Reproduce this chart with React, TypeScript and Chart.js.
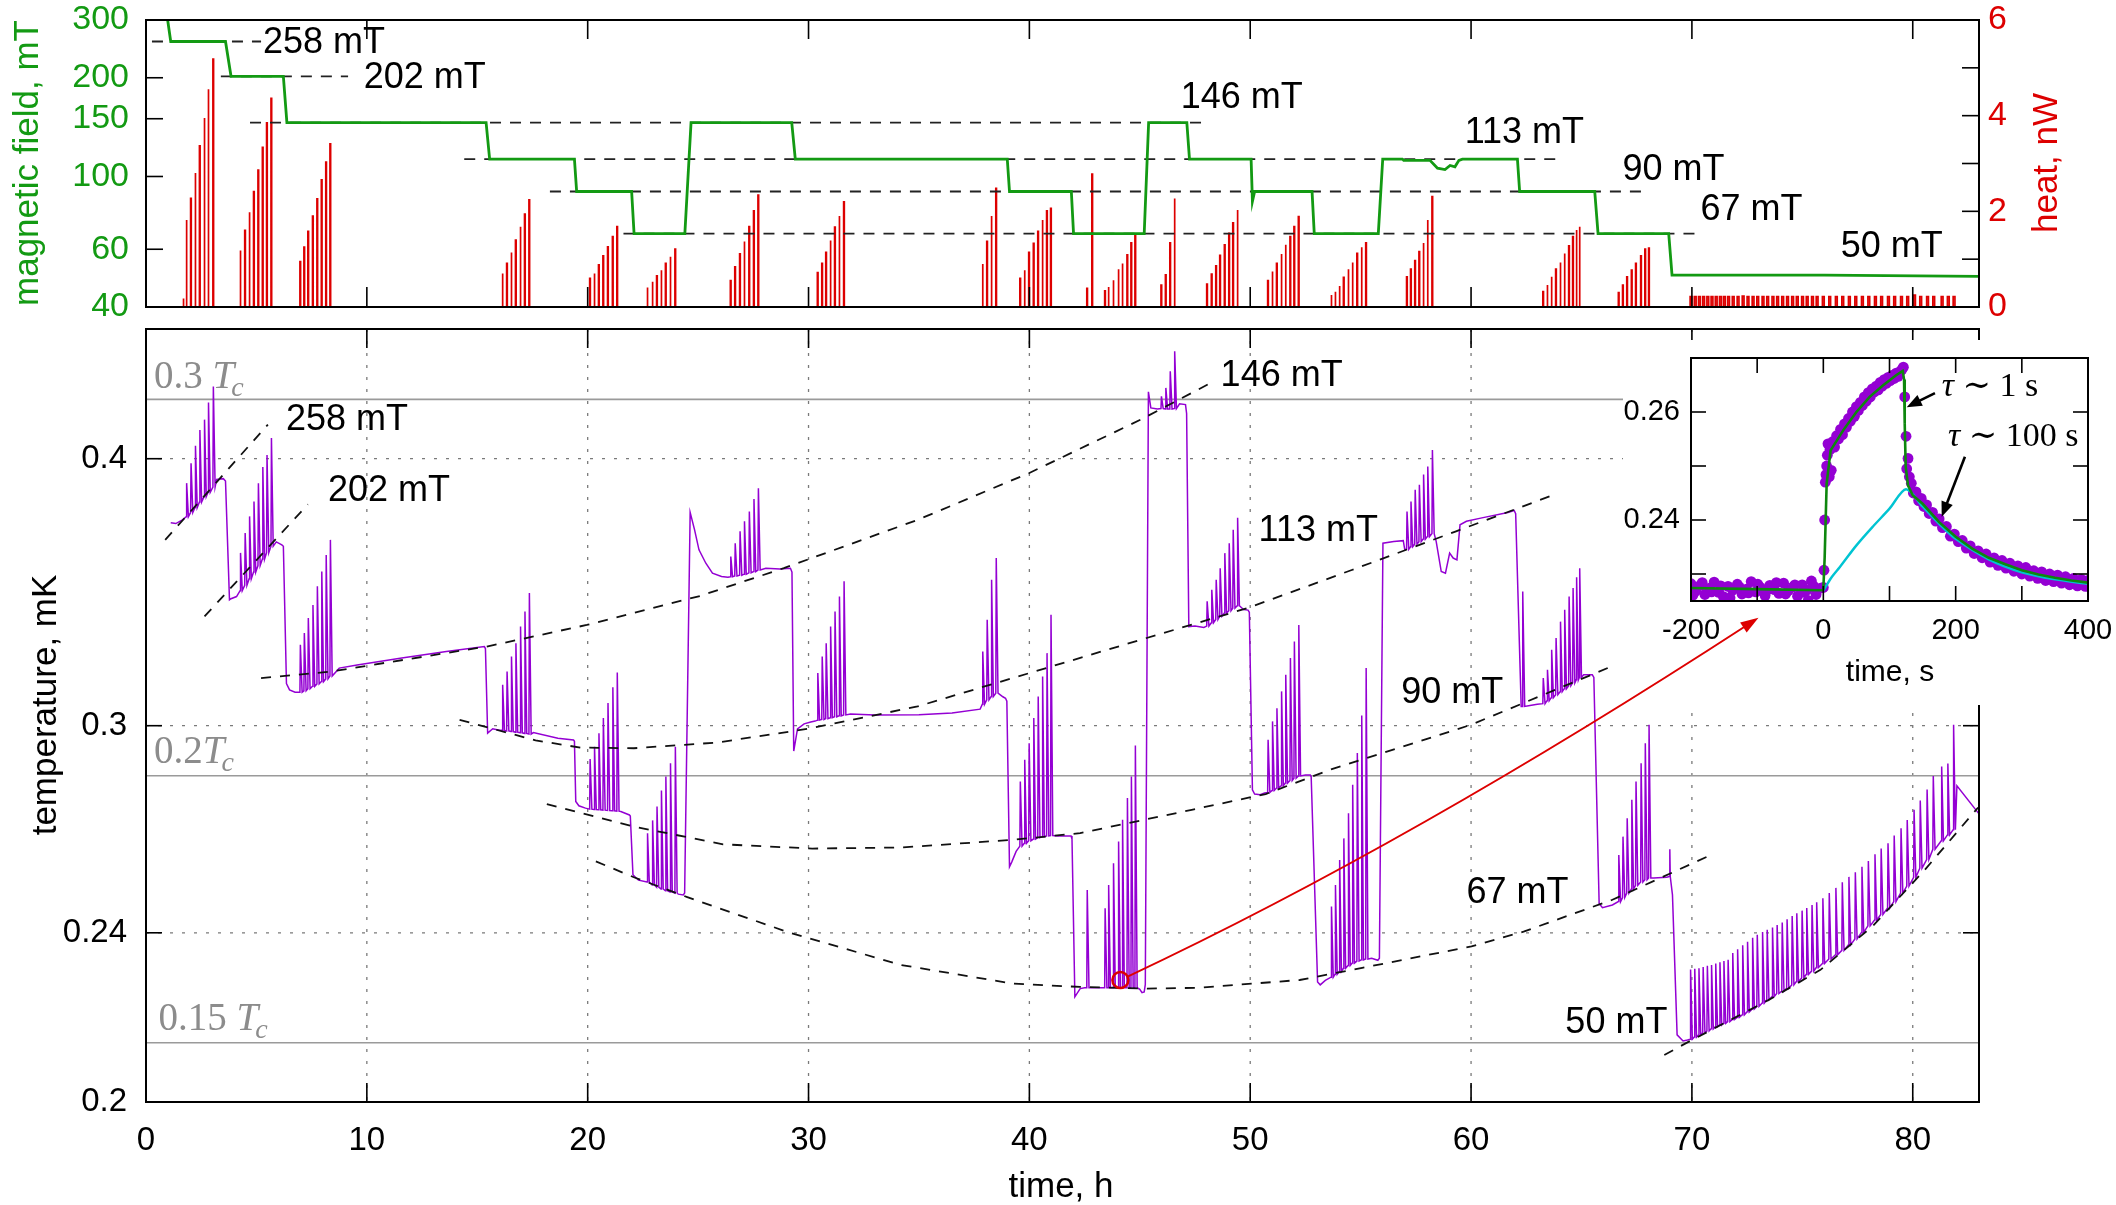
import React, { useEffect, useRef } from "react";
import { Chart, registerables } from "chart.js";

Chart.register(...registerables);

const W = 2116;
const H = 1205;
const TOP_H = 320;
const SANS = "'Liberation Sans', Arial, sans-serif";
const SERIF = "'Liberation Serif', 'DejaVu Serif', serif";

const PURPLE = "#9400d3";
const FIELD_GREEN = "#139a13";
const FIT_GREEN = "#0e870e";
const RED = "#dd0000";
const CYAN = "#00c4d2";
const GRAY_LINE = "#9a9a9a";
const GRAY_TEXT = "#8c8c8c";

// ---------- axis ticks ----------
const timeTicks = [0, 10, 20, 30, 40, 50, 60, 70, 80];
const fieldTicks = [40, 60, 100, 150, 200, 300];
const heatTicks = [0, 1, 2, 3, 4, 5, 6];
const tempTicks = [0.2, 0.24, 0.3, 0.4];
const insetTimeTicks = [-200, -100, 0, 100, 200, 300, 400];
const insetTempTicks = [0.23, 0.24, 0.25, 0.26];

// ---------- top panel: magnetic field (mT) ----------
const fieldTime = [0.95, 1.12, 3.6, 3.85, 6.22, 6.38, 15.4, 15.56, 19.4, 19.5, 21.99, 22.1, 24.4, 24.68, 29.24, 29.4, 39.0, 39.1, 41.9, 42.0, 45.2, 45.4, 47.13, 47.25, 50.04, 50.1, 50.2, 52.8, 52.9, 55.8, 56.0, 56.89, 56.95, 58.14, 58.48, 58.82, 59.05, 59.27, 59.45, 59.61, 62.1, 62.2, 65.6, 65.75, 68.95, 69.1, 76.0, 83.0];
const fieldValue = [310, 258, 258, 202, 202, 146, 146, 113, 113, 90, 90, 67, 67, 146, 146, 113, 113, 90, 90, 67, 67, 146, 146, 113, 113, 84, 90, 90, 67, 67, 113, 113, 112, 112, 106, 105, 108, 107, 112, 113, 113, 90, 90, 67, 67, 50, 50, 49.6];

const fieldLevels = [258, 202, 146, 113, 90, 67];
const fieldLevelStart = [0.27, 3.39, 4.71, 14.41, 18.29, 21.62];
const fieldLevelEnd = [5.21, 9.15, 47.88, 64.15, 67.9, 70.5];

const topLabelText = ["258 mT", "202 mT", "146 mT", "113 mT", "90 mT", "67 mT", "50 mT"];
const topLabelTime = [5.3, 9.86, 46.85, 59.71, 66.86, 70.39, 76.74];
const topLabelField = [255, 199.7, 173.5, 135.7, 104.7, 79.0, 61.0];

// extra heater pulses without a matching temperature spike [time h, nW]
const heatExtra = [[1.68, 0.18], [42.83, 2.78]];

// ---------- main panel: temperature trace (mK) ----------
// baseline / transition points [time h, T mK]
const traceKnots = [
  [1.12, 0.3733], [1.35, 0.373], [1.65, 0.3745],
  [3.2, 0.3912], [3.5, 0.3915], [3.6, 0.3905], [3.78, 0.3436], [3.85, 0.344], [4.1, 0.3448],
  [5.9, 0.3657], [6.15, 0.3645], [6.22, 0.364], [6.36, 0.3139], [6.5, 0.3118], [6.75, 0.311],
  [8.75, 0.3192], [9.56, 0.3203], [11.58, 0.3227], [13.6, 0.325], [15.32, 0.3267], [15.37, 0.326], [15.47, 0.2976], [15.7, 0.299], [16.0, 0.2985],
  [17.54, 0.2978], [18.65, 0.296], [19.36, 0.2954], [19.4, 0.295], [19.46, 0.2765], [19.6, 0.2752], [19.9, 0.2745],
  [21.5, 0.2735], [21.89, 0.2725], [21.93, 0.2722], [22.05, 0.2555], [22.3, 0.254],
  [24.1, 0.2502], [24.33, 0.25], [24.39, 0.2505], [24.64, 0.3775], [24.84, 0.3705], [25.04, 0.3626], [25.35, 0.3574], [25.65, 0.3536], [26.06, 0.3523], [26.35, 0.352],
  [28.07, 0.3555], [28.7, 0.3552], [29.18, 0.3555], [29.25, 0.354], [29.33, 0.2919], [29.5, 0.299], [29.8, 0.3006], [30.1, 0.3012], [30.3, 0.3015],
  [31.9, 0.3038], [33.0, 0.3035], [35.0, 0.3036], [36.5, 0.3041], [37.77, 0.3054],
  [38.8, 0.3095], [38.92, 0.309], [38.98, 0.308], [39.1, 0.2577], [39.2, 0.259], [39.4, 0.262],
  [41.29, 0.2664], [41.89, 0.2664], [41.93, 0.2655], [42.06, 0.224], [42.3, 0.226], [42.5, 0.2262],
  [45.0, 0.2258], [45.1, 0.225], [45.2, 0.2252], [45.25, 0.227], [45.39, 0.4299], [45.5, 0.4225], [45.8, 0.422],
  [46.8, 0.4244], [47.07, 0.424], [47.12, 0.42], [47.22, 0.3338], [47.5, 0.334], [47.9, 0.3335],
  [49.7, 0.34], [49.9, 0.3398], [49.96, 0.339], [50.1, 0.28], [50.2, 0.2787], [50.45, 0.2785], [50.65, 0.279],
  [52.5, 0.2845], [52.72, 0.2845], [52.76, 0.284], [53.05, 0.2276], [53.17, 0.2269], [53.4, 0.228],
  [55.5, 0.2335], [55.78, 0.233], [55.85, 0.2335], [56.01, 0.3652], [56.5, 0.3659], [56.93, 0.3662], [57.0, 0.3626],
  [58.42, 0.3659], [58.65, 0.3542], [58.84, 0.3536], [59.03, 0.3613], [59.19, 0.3594], [59.36, 0.3587], [59.5, 0.3725], [59.79, 0.3739], [60.49, 0.3753], [61.67, 0.3775], [61.95, 0.3783], [62.02, 0.377], [62.27, 0.3063], [62.31, 0.3063],
  [62.6, 0.3065], [63.0, 0.307],
  [65.1, 0.3169], [65.49, 0.3169], [65.56, 0.316], [65.8, 0.2477], [65.95, 0.2466], [66.4, 0.2473],
  [68.27, 0.2546], [68.86, 0.2548], [68.98, 0.255], [69.0, 0.2626], [69.02, 0.255], [69.12, 0.25], [69.33, 0.215], [69.6, 0.2136], [69.8, 0.2138],
  [82.0, 0.2812], [83.0, 0.2728],
];

// heat-pulse bursts: [time h, baseline T, peak T, heater nW]
const burst258 = [[1.82, 0.3758, 0.3896, 1.82], [2.02, 0.3775, 0.398, 2.27], [2.22, 0.3795, 0.4056, 2.8], [2.42, 0.3818, 0.4126, 3.37], [2.63, 0.384, 0.4172, 3.95], [2.81, 0.3858, 0.425, 4.55], [3.03, 0.388, 0.4324, 5.18]];
const burst202 = [[4.26, 0.347, 0.3614, 1.18], [4.47, 0.349, 0.3692, 1.6], [4.67, 0.3515, 0.3759, 1.98], [4.87, 0.354, 0.382, 2.41], [5.07, 0.3565, 0.3896, 2.86], [5.27, 0.359, 0.3964, 3.34], [5.46, 0.3615, 0.4016, 3.85], [5.66, 0.364, 0.409, 4.36]];
const burst146a = [[6.97, 0.311, 0.3273, 0.95], [7.15, 0.3115, 0.3315, 1.25], [7.33, 0.3122, 0.3369, 1.58], [7.54, 0.313, 0.3417, 1.9], [7.74, 0.3138, 0.3486, 2.26], [7.94, 0.3146, 0.3542, 2.66], [8.14, 0.3155, 0.3606, 3.03], [8.33, 0.3165, 0.3665, 3.41]];
const burst113a = [[16.13, 0.2985, 0.3135, 0.7], [16.33, 0.2983, 0.318, 0.91], [16.53, 0.2981, 0.3232, 1.14], [16.73, 0.2979, 0.3279, 1.4], [16.94, 0.2977, 0.3338, 1.68], [17.14, 0.2975, 0.3393, 1.94], [17.34, 0.2973, 0.3461, 2.24]];
const burst90a = [[20.09, 0.2742, 0.2894, 0.6], [20.29, 0.2741, 0.2933, 0.7], [20.49, 0.274, 0.2976, 0.88], [20.69, 0.2739, 0.3025, 1.07], [20.9, 0.2738, 0.3074, 1.26], [21.12, 0.2737, 0.3127, 1.47], [21.32, 0.2736, 0.3177, 1.68]];
const burst67a = [[22.69, 0.2535, 0.2672, 0.41], [22.92, 0.2527, 0.2709, 0.53], [23.12, 0.2521, 0.275, 0.65], [23.32, 0.2516, 0.2798, 0.77], [23.52, 0.2511, 0.284, 0.91], [23.73, 0.2508, 0.2881, 1.05], [23.95, 0.2505, 0.2933, 1.21]];
const burst146b = [[26.46, 0.3522, 0.36, 0.55], [26.66, 0.3525, 0.3652, 0.84], [26.88, 0.3528, 0.3699, 1.11], [27.08, 0.3532, 0.3739, 1.37], [27.3, 0.3537, 0.3779, 1.68], [27.51, 0.3542, 0.383, 2.01], [27.71, 0.3548, 0.3875, 2.34]];
const burst113b = [[30.4, 0.3018, 0.3175, 0.72], [30.6, 0.302, 0.3232, 0.91], [30.78, 0.3023, 0.3279, 1.14], [30.98, 0.3026, 0.3338, 1.39], [31.18, 0.3029, 0.3393, 1.67], [31.38, 0.3032, 0.3448, 1.9], [31.59, 0.3035, 0.3505, 2.2]];
const burst113bEnd = [[37.87, 0.307, 0.325, 0.9], [38.07, 0.3085, 0.3363, 1.37], [38.27, 0.3096, 0.3511, 1.9], [38.48, 0.3107, 0.3594, 2.48]];
const burst90b = [[39.57, 0.2635, 0.2825, 0.6], [39.77, 0.2643, 0.2892, 0.77], [39.97, 0.265, 0.2944, 1.14], [40.18, 0.2655, 0.3025, 1.33], [40.38, 0.2659, 0.3096, 1.58], [40.58, 0.2662, 0.3163, 1.82], [40.78, 0.2664, 0.3244, 2.01], [40.96, 0.2665, 0.3381, 2.06]];
const burst67b = [[42.6, 0.2262, 0.2513, 0.39], [43.41, 0.2262, 0.2464, 0.34], [43.57, 0.2262, 0.2527, 0.42], [43.79, 0.2262, 0.2587, 0.56], [44.02, 0.2262, 0.2648, 0.79], [44.2, 0.2262, 0.2711, 0.91], [44.42, 0.2262, 0.2775, 1.09], [44.6, 0.2262, 0.284, 1.34], [44.78, 0.2262, 0.2937, 1.51]];
const burst146c = [[45.96, 0.4222, 0.4278, 0.46], [46.16, 0.422, 0.4317, 0.67], [46.36, 0.422, 0.4395, 1.34], [46.56, 0.4222, 0.4491, 2.27]];
const burst113c = [[48.03, 0.334, 0.343, 0.48], [48.24, 0.3352, 0.3473, 0.69], [48.44, 0.3364, 0.3511, 0.86], [48.62, 0.3376, 0.3555, 1.08], [48.83, 0.3387, 0.3613, 1.3], [49.03, 0.3396, 0.3652, 1.54], [49.21, 0.3405, 0.3705, 1.76], [49.41, 0.3414, 0.3753, 2.03]];
const burst90c = [[50.79, 0.2792, 0.2955, 0.55], [50.99, 0.2798, 0.3014, 0.74], [51.19, 0.2805, 0.3057, 0.91], [51.4, 0.2812, 0.3113, 1.11], [51.59, 0.282, 0.3169, 1.3], [51.8, 0.2828, 0.3227, 1.47], [51.98, 0.2835, 0.3285, 1.68], [52.18, 0.2842, 0.3344, 1.89]];
const burst67c = [[53.66, 0.2288, 0.2469, 0.25], [53.84, 0.2295, 0.2527, 0.32], [54.03, 0.2302, 0.2596, 0.44], [54.22, 0.231, 0.2657, 0.62], [54.43, 0.2317, 0.273, 0.79], [54.62, 0.2323, 0.2815, 0.93], [54.83, 0.2328, 0.2913, 1.12], [55.03, 0.2331, 0.3033, 1.25], [55.23, 0.2333, 0.3192, 1.34]];
const burst113d = [[57.08, 0.3628, 0.3779, 0.63], [57.26, 0.3638, 0.382, 0.79], [57.45, 0.3648, 0.3868, 0.97], [57.64, 0.3658, 0.3889, 1.16], [57.83, 0.3668, 0.3932, 1.34], [58.02, 0.3678, 0.3967, 1.82], [58.23, 0.369, 0.4038, 2.31]];
const burst90d = [[62.33, 0.3063, 0.3467, 0], [63.25, 0.3072, 0.3158, 0.32], [63.44, 0.3082, 0.3186, 0.46], [63.63, 0.3092, 0.3256, 0.63], [63.83, 0.3102, 0.3297, 0.79], [64.03, 0.3112, 0.3356, 0.93], [64.22, 0.3122, 0.3399, 1.12], [64.42, 0.3132, 0.3448, 1.28], [64.6, 0.3142, 0.348, 1.47], [64.76, 0.3152, 0.352, 1.61], [64.9, 0.316, 0.3555, 1.68]];
const burst67d = [[66.67, 0.2482, 0.261, 0.3], [66.86, 0.2493, 0.2662, 0.46], [67.05, 0.2505, 0.2715, 0.63], [67.26, 0.2516, 0.277, 0.77], [67.45, 0.2526, 0.2825, 0.91], [67.68, 0.2535, 0.2881, 1.07], [67.87, 0.2541, 0.2944, 1.21], [68.04, 0.2546, 0.3003, 1.23]];
const burst50 = [
  [69.92, 0.214, 0.2307, 0.22], [70.11, 0.2145, 0.2309, 0.22], [70.3, 0.215, 0.231, 0.22], [70.49, 0.2155, 0.2313, 0.22], [70.68, 0.2159, 0.2316, 0.22],
  [70.87, 0.2164, 0.2318, 0.22], [71.06, 0.2169, 0.2322, 0.22], [71.25, 0.2173, 0.2325, 0.22], [71.43, 0.2177, 0.2328, 0.22], [71.62, 0.2181, 0.2331, 0.22],
  [71.83, 0.2186, 0.2348, 0.22], [72.05, 0.2191, 0.2358, 0.22], [72.28, 0.2197, 0.2368, 0.23], [72.5, 0.2204, 0.2377, 0.22], [72.73, 0.2211, 0.2387, 0.22],
  [72.94, 0.2217, 0.2395, 0.22], [73.18, 0.2225, 0.2402, 0.22], [73.39, 0.2233, 0.2408, 0.22], [73.63, 0.2241, 0.2414, 0.22], [73.84, 0.2248, 0.242, 0.22],
  [74.07, 0.2254, 0.2427, 0.22], [74.29, 0.2261, 0.2435, 0.22], [74.52, 0.2269, 0.2444, 0.22], [74.73, 0.2277, 0.2451, 0.22], [74.97, 0.2286, 0.2458, 0.22],
  [75.18, 0.2295, 0.2465, 0.22], [75.42, 0.2303, 0.2473, 0.22], [75.63, 0.2312, 0.248, 0.22], [75.91, 0.2322, 0.2491, 0.22], [76.2, 0.2333, 0.2505, 0.22],
  [76.5, 0.2344, 0.2519, 0.22], [76.79, 0.2355, 0.2534, 0.22], [77.09, 0.2369, 0.2549, 0.22], [77.38, 0.2384, 0.2562, 0.22], [77.68, 0.2401, 0.2577, 0.22],
  [77.97, 0.2418, 0.2593, 0.22], [78.27, 0.2433, 0.2612, 0.22], [78.55, 0.2448, 0.2628, 0.22], [78.86, 0.2465, 0.2643, 0.22], [79.14, 0.2482, 0.2665, 0.22],
  [79.45, 0.2505, 0.2686, 0.22], [79.73, 0.2524, 0.271, 0.22], [80.04, 0.2548, 0.274, 0.25], [80.32, 0.2573, 0.2768, 0.22], [80.63, 0.2597, 0.2801, 0.22],
  [80.91, 0.2626, 0.2842, 0.22], [81.29, 0.265, 0.2871, 0.22], [81.57, 0.2667, 0.288, 0.22], [81.83, 0.2682, 0.3003, 0.22],
];
const bursts = [burst258, burst202, burst146a, burst113a, burst90a, burst67a, burst146b, burst113b, burst113bEnd, burst90b, burst67b, burst146c, burst113c, burst90c, burst67c, burst113d, burst90d, burst67d, burst50];

// dashed guide curves [time h, T mK]
const guide258 = [[0.87, 0.3665], [5.52, 0.415]];
const guide202 = [[2.65, 0.3375], [7.33, 0.3808]];
const guide146 = [[5.21, 0.3158], [8.35, 0.318], [15.42, 0.3267], [19.96, 0.3344], [25.08, 0.345], [28.88, 0.3555], [34.94, 0.3745], [40.0, 0.3939], [45.04, 0.4172], [48.08, 0.4333]];
const guide113 = [[14.2, 0.3019], [17.64, 0.2953], [19.67, 0.293], [22.09, 0.2928], [25.85, 0.2946], [29.99, 0.299], [34.94, 0.3063], [40.0, 0.3175], [45.04, 0.3291], [49.9, 0.3406], [54.6, 0.3548], [59.32, 0.3699], [63.56, 0.3841]];
const guide90 = [[18.15, 0.2757], [22.09, 0.2691], [26.13, 0.264], [30.17, 0.2628], [34.21, 0.2631], [39.27, 0.2653], [42.3, 0.2672], [47.35, 0.274], [50.7, 0.2787], [53.66, 0.2862], [60.0, 0.3003], [66.4, 0.3199]];
const guide67 = [[20.37, 0.2592], [22.09, 0.2548], [24.51, 0.2494], [29.16, 0.24], [34.21, 0.2318], [39.27, 0.2272], [42.3, 0.2264], [45.33, 0.226], [47.7, 0.2262], [52.24, 0.2281], [55.07, 0.2311], [60.02, 0.2365], [62.38, 0.2403], [66.4, 0.2487], [70.87, 0.261]];
const guide50 = [[68.75, 0.2104], [69.92, 0.2136], [73.46, 0.2232], [75.82, 0.2306], [78.18, 0.2417], [80.54, 0.2568], [82.96, 0.2747]];
const guides = [guide258, guide202, guide146, guide113, guide90, guide67, guide50];

const mainLabelText = ["258 mT", "202 mT", "146 mT", "113 mT", "90 mT", "67 mT", "50 mT"];
const mainLabelTime = [6.34, 8.24, 48.66, 50.38, 56.84, 59.79, 64.27];
const mainLabelTemp = [0.4172, 0.3861, 0.4374, 0.3698, 0.3107, 0.2505, 0.2177];

const Tc = 1.4213;
const tcFractions = [0.3, 0.2, 0.15];
const tcPrefix = ["0.3 ", "0.2", "0.15 "];
const tcLabelTime = [0.36, 0.36, 0.57];
const tcLabelTemp = [0.4318, 0.2882, 0.2161];

const markerTime = 44.12;
const markerTemp = 0.2281;
const markerTarget = [-98, 0.2219]; // in inset coordinates (s, mK)

// ---------- inset ----------
const insetFitTime = [-200, -100, -1, 0, 2, 5, 11, 30, 50, 70, 90, 110, 120, 122, 123, 124.5, 128, 135, 150, 175, 200, 225, 250, 275, 300, 325, 350, 375, 400];
const insetFitValue = [0.2274, 0.2272, 0.227, 0.2272, 0.233, 0.2467, 0.2529, 0.2566, 0.26, 0.2628, 0.2649, 0.2668, 0.2676, 0.266, 0.2578, 0.2498, 0.2464, 0.2446, 0.243, 0.2396, 0.2369, 0.2347, 0.233, 0.2318, 0.2307, 0.2299, 0.2293, 0.2288, 0.2284];
const insetCyanTime = [0, 12, 25, 50, 75, 100, 125, 150, 175, 200, 250, 300, 350, 400];
const insetCyanValue = [0.2269, 0.2293, 0.2313, 0.2353, 0.2388, 0.2421, 0.2457, 0.2425, 0.2393, 0.2365, 0.2327, 0.2303, 0.229, 0.2282];
const insetDots = [
  [-200, 0.2282], [-197, 0.2261], [-193, 0.2268], [-186, 0.2279], [-183, 0.2284], [-179, 0.2262], [-172, 0.2274], [-169, 0.2267], [-165, 0.2285], [-158, 0.2266],
  [-155, 0.2278], [-151, 0.2258], [-146, 0.2251], [-144, 0.2277], [-141, 0.2256], [-137, 0.227], [-130, 0.2281], [-127, 0.2276], [-123, 0.2263], [-116, 0.2272],
  [-113, 0.2265], [-109, 0.2286], [-102, 0.2267], [-99, 0.2281], [-95, 0.2275], [-88, 0.226], [-85, 0.227], [-81, 0.2279], [-74, 0.2271], [-71, 0.2284],
  [-67, 0.2264], [-60, 0.2283], [-57, 0.2263], [-53, 0.2269], [-46, 0.2276], [-43, 0.228], [-39, 0.2259], [-32, 0.228], [-29, 0.2266], [-25, 0.227],
  [-23, 0.2251], [-18, 0.2287], [-15, 0.2278], [-11, 0.2262], [-4, 0.2274],
  [0, 0.2275], [1, 0.2307], [2, 0.24], [3, 0.247], [4, 0.2484], [5, 0.25], [6, 0.252], [7, 0.2541], [9, 0.248], [10, 0.253], [12, 0.2492], [14, 0.2545],
  [17, 0.2535], [20, 0.2556], [23, 0.255], [26, 0.2568], [29, 0.2558], [32, 0.2578], [35, 0.2572], [38, 0.2588], [41, 0.2583], [44, 0.26], [47, 0.2592],
  [50, 0.261], [53, 0.2603], [56, 0.2618], [59, 0.2612], [62, 0.2628], [65, 0.262], [68, 0.2636], [71, 0.2628], [74, 0.2643], [77, 0.2637], [80, 0.2648],
  [83, 0.2641], [86, 0.2655], [89, 0.2648], [92, 0.266], [95, 0.2653], [98, 0.2664], [101, 0.2658], [104, 0.2668], [107, 0.2662], [110, 0.2672], [113, 0.2666],
  [116, 0.2675], [119, 0.2679], [121, 0.2683],
  [123, 0.2628], [125, 0.2555], [126, 0.2495], [128, 0.2514], [130, 0.248], [133, 0.2468], [136, 0.245], [140, 0.2452], [144, 0.2436], [148, 0.244],
  [152, 0.2425], [156, 0.2428], [160, 0.2412], [165, 0.2414], [170, 0.2398], [175, 0.2402], [180, 0.2386], [186, 0.2388], [192, 0.237], [198, 0.2374],
  [204, 0.236], [210, 0.2362], [216, 0.2348], [222, 0.2352], [228, 0.2338], [234, 0.2343], [240, 0.233], [246, 0.2337], [252, 0.2322], [258, 0.233],
  [264, 0.2316], [270, 0.2325], [276, 0.2311], [282, 0.232], [288, 0.2305], [294, 0.2315], [300, 0.23], [306, 0.2312], [312, 0.2296], [318, 0.2306],
  [324, 0.2292], [330, 0.2304], [336, 0.2288], [342, 0.23], [348, 0.2286], [354, 0.2298], [360, 0.2283], [366, 0.2295], [372, 0.228], [378, 0.2292],
  [384, 0.2278], [390, 0.229], [396, 0.2277], [400, 0.2288],
];
const insetArrowFrom = [[168.7, 0.2635], [214, 0.2517]];
const insetArrowTo = [[126, 0.2609], [178.9, 0.2406]];
const insetTextTime = [179, 188.4];
const insetTextValue = [0.2646, 0.2554];
const insetTextRest = [" \u223C 1 s", " \u223C 100 s"];

// ---------- builders ----------
function buildTrace() {
  const pts: { x: number; y: number }[] = traceKnots.map(([x, y]) => ({ x, y }));
  bursts.forEach((b) =>
    b.forEach(([t, base, peak]) => {
      pts.push({ x: t, y: base }, { x: t + 0.02, y: peak }, { x: t + 0.1, y: base });
    })
  );
  pts.sort((a, b) => a.x - b.x);
  return pts;
}

function buildHeat() {
  const pulses: number[][] = [];
  bursts.forEach((b) =>
    b.forEach(([t, , , h]) => {
      if (h > 0) pulses.push([t, h, b === burst50 ? 0.08 : 0.03]);
    })
  );
  heatExtra.forEach(([t, h]) => pulses.push([t, h, 0.03]));
  pulses.sort((a, b) => a[0] - b[0]);
  const pts = [{ x: 1.5, y: 0 }];
  pulses.forEach(([t, h, w]) => {
    pts.push({ x: t, y: 0 }, { x: t, y: h }, { x: t + w, y: h }, { x: t + w, y: 0 });
  });
  pts.push({ x: 83, y: 0 });
  return pts;
}

function seg(ctx: CanvasRenderingContext2D, x0: number, y0: number, x1: number, y1: number) {
  ctx.beginPath();
  ctx.moveTo(x0, y0);
  ctx.lineTo(x1, y1);
  ctx.stroke();
}

function vText(ctx: CanvasRenderingContext2D, text: string, x: number, y: number, font: string, color: string) {
  ctx.save();
  ctx.translate(x, y);
  ctx.rotate(-Math.PI / 2);
  ctx.font = font;
  ctx.fillStyle = color;
  ctx.textAlign = "center";
  ctx.textBaseline = "middle";
  ctx.fillText(text, 0, 0);
  ctx.restore();
}

function head(ctx: CanvasRenderingContext2D, fx: number, fy: number, x: number, y: number, len: number, half: number) {
  const a = Math.atan2(y - fy, x - fx);
  const c = Math.cos(a), s = Math.sin(a);
  ctx.beginPath();
  ctx.moveTo(x, y);
  ctx.lineTo(x - len * c + half * s, y - len * s - half * c);
  ctx.lineTo(x - len * c - half * s, y - len * s + half * c);
  ctx.closePath();
  ctx.fill();
}

function fixWidth(w: number) {
  return (s: any) => {
    s.width = w;
    s.paddingTop = 0;
    s.paddingBottom = 0;
    s.paddingLeft = 0;
    s.paddingRight = 0;
  };
}
function fixHeight(h: number) {
  return (s: any) => {
    s.height = h;
    s.paddingTop = 0;
    s.paddingBottom = 0;
    s.paddingLeft = 0;
    s.paddingRight = 0;
  };
}

function axisBase(extra: any) {
  return {
    grid: { display: false, drawTicks: false },
    border: { display: false },
    ...extra,
  };
}

export default function App() {
  const topRef = useRef<HTMLCanvasElement>(null);
  const mainRef = useRef<HTMLCanvasElement>(null);
  const insetRef = useRef<HTMLCanvasElement>(null);

  useEffect(() => {
    document.body.style.margin = "0";
    const charts: Chart[] = [];

    // ---------------- top panel ----------------
    const topDecor = {
      id: "topDecor",
      afterDatasetsDraw(chart: any) {
        const { ctx, chartArea: a, scales } = chart;
        const sx = scales.x, sb = scales.yB, sh = scales.yH;
        ctx.save();
        ctx.strokeStyle = "#000";
        ctx.lineWidth = 1.6;
        timeTicks.forEach((t) => {
          const px = sx.getPixelForValue(t);
          seg(ctx, px, a.bottom, px, a.bottom - 20);
          seg(ctx, px, a.top, px, a.top + 19);
        });
        fieldTicks.forEach((v) => {
          const py = sb.getPixelForValue(v);
          seg(ctx, a.left, py, a.left + 17, py);
        });
        heatTicks.forEach((v) => {
          const py = sh.getPixelForValue(v);
          seg(ctx, a.right, py, a.right - 17, py);
        });
        ctx.lineWidth = 2;
        ctx.strokeRect(a.left, a.top, a.right - a.left, a.bottom - a.top);
        ctx.fillStyle = "#000";
        ctx.font = `36px ${SANS}`;
        ctx.textAlign = "left";
        ctx.textBaseline = "middle";
        topLabelText.forEach((s, i) => ctx.fillText(s, sx.getPixelForValue(topLabelTime[i]), sb.getPixelForValue(topLabelField[i])));
        vText(ctx, "magnetic field, mT", 28, 163, `35px ${SANS}`, FIELD_GREEN);
        vText(ctx, "heat, nW", 2047, 163, `35px ${SANS}`, RED);
        ctx.restore();
      },
    };

    const fieldData = fieldTime.map((t, i) => ({ x: t, y: fieldValue[i] }));
    const levelSets = fieldLevels.map((lv, i) => ({
      data: [{ x: fieldLevelStart[i], y: lv }, { x: fieldLevelEnd[i], y: lv }],
      yAxisID: "yB",
      borderColor: "#222",
      borderWidth: 1.8,
      borderDash: [11, 9],
      pointRadius: 0,
    }));

    charts.push(
      new Chart(topRef.current!, {
        type: "line",
        data: {
          datasets: [
            { data: fieldData, yAxisID: "yB", borderColor: FIELD_GREEN, borderWidth: 2.8, pointRadius: 0 },
            ...levelSets,
            { data: buildHeat(), yAxisID: "yH", borderColor: RED, borderWidth: 1.7, pointRadius: 0 },
          ],
        },
        options: {
          responsive: false,
          animation: false,
          devicePixelRatio: 1,
          events: [],
          layout: { padding: { top: 20, bottom: 13, left: 0, right: 0 } },
          plugins: { legend: { display: false }, tooltip: { enabled: false } },
          scales: {
            x: { type: "linear", min: 0, max: 83, display: false },
            yB: axisBase({
              type: "logarithmic",
              position: "left",
              min: 40,
              max: 300,
              afterFit: fixWidth(146),
              afterBuildTicks: (s: any) => { s.ticks = fieldTicks.map((v) => ({ value: v })); },
              ticks: { color: FIELD_GREEN, font: { family: SANS, size: 34 }, padding: 17, autoSkip: false, callback: (v: any) => String(v) },
            }),
            yH: axisBase({
              type: "linear",
              position: "right",
              min: 0,
              max: 6,
              afterFit: fixWidth(137),
              afterBuildTicks: (s: any) => { s.ticks = heatTicks.map((v) => ({ value: v })); },
              ticks: { color: RED, font: { family: SANS, size: 34 }, padding: 9, autoSkip: false, callback: (v: any) => (v % 2 === 0 ? String(v) : "") },
            }),
          },
        },
        plugins: [topDecor],
      } as any)
    );

    // ---------------- main panel ----------------
    const mainDecor = {
      id: "mainDecor",
      beforeDatasetsDraw(chart: any) {
        const { ctx, chartArea: a, scales } = chart;
        ctx.save();
        ctx.strokeStyle = "#7a7a7a";
        ctx.lineWidth = 1.3;
        ctx.setLineDash([3, 9]);
        timeTicks.forEach((t) => {
          if (t === 0) return;
          const px = scales.x.getPixelForValue(t);
          seg(ctx, px, a.top, px, a.bottom);
        });
        tempTicks.forEach((v) => {
          if (v === 0.2) return;
          const py = scales.y.getPixelForValue(v);
          seg(ctx, a.left, py, a.right, py);
        });
        ctx.restore();
      },
      afterDatasetsDraw(chart: any) {
        const { ctx, chartArea: a, scales } = chart;
        const sx = scales.x, sy = scales.y;
        ctx.save();
        ctx.strokeStyle = "#000";
        ctx.lineWidth = 1.6;
        timeTicks.forEach((t) => {
          const px = sx.getPixelForValue(t);
          seg(ctx, px, a.bottom, px, a.bottom - 19);
          seg(ctx, px, a.top, px, a.top + 19);
        });
        tempTicks.forEach((v) => {
          const py = sy.getPixelForValue(v);
          seg(ctx, a.left, py, a.left + 16, py);
          seg(ctx, a.right, py, a.right - 16, py);
        });
        ctx.lineWidth = 2;
        ctx.strokeRect(a.left, a.top, a.right - a.left, a.bottom - a.top);

        ctx.fillStyle = "#000";
        ctx.font = `36px ${SANS}`;
        ctx.textAlign = "left";
        ctx.textBaseline = "middle";
        mainLabelText.forEach((s, i) => ctx.fillText(s, sx.getPixelForValue(mainLabelTime[i]), sy.getPixelForValue(mainLabelTemp[i])));

        ctx.fillStyle = GRAY_TEXT;
        ctx.textBaseline = "alphabetic";
        tcPrefix.forEach((p, i) => {
          const x0 = sx.getPixelForValue(tcLabelTime[i]);
          const y0 = sy.getPixelForValue(tcLabelTemp[i]);
          ctx.font = `39px ${SERIF}`;
          ctx.fillText(p, x0, y0);
          const w1 = ctx.measureText(p).width;
          ctx.font = `italic 39px ${SERIF}`;
          ctx.fillText("T", x0 + w1, y0);
          const w2 = ctx.measureText("T").width;
          ctx.font = `italic 28px ${SERIF}`;
          ctx.fillText("c", x0 + w1 + w2 - 3, y0 + 8);
        });

        ctx.strokeStyle = RED;
        ctx.lineWidth = 2.5;
        ctx.beginPath();
        ctx.arc(sx.getPixelForValue(markerTime), sy.getPixelForValue(markerTemp), 8, 0, Math.PI * 2);
        ctx.stroke();

        vText(ctx, "temperature, mK", 46, 705, `35px ${SANS}`, "#000");
        ctx.fillStyle = "#000";
        ctx.font = `35px ${SANS}`;
        ctx.textAlign = "center";
        ctx.textBaseline = "alphabetic";
        ctx.fillText("time, h", 1061, 1197);
        ctx.restore();
      },
    };

    const guideSets = guides.map((g) => ({
      data: g.map(([x, y]) => ({ x, y })),
      borderColor: "#111",
      borderWidth: 1.8,
      borderDash: [10, 9],
      pointRadius: 0,
    }));
    const tcSets = tcFractions.map((f) => ({
      data: [{ x: 0, y: f * Tc }, { x: 83, y: f * Tc }],
      borderColor: GRAY_LINE,
      borderWidth: 1.6,
      pointRadius: 0,
    }));

    const mainChart = new Chart(mainRef.current!, {
      type: "line",
      data: {
        datasets: [
          ...guideSets,
          { data: buildTrace(), borderColor: PURPLE, borderWidth: 1.5, pointRadius: 0 },
          ...tcSets,
        ],
      },
      options: {
        responsive: false,
        animation: false,
        devicePixelRatio: 1,
        events: [],
        layout: { padding: { top: 329, bottom: 0, left: 0, right: 137 } },
        plugins: { legend: { display: false }, tooltip: { enabled: false } },
        scales: {
          x: axisBase({
            type: "linear",
            min: 0,
            max: 83,
            afterFit: fixHeight(103),
            afterBuildTicks: (s: any) => { s.ticks = timeTicks.map((v) => ({ value: v })); },
            ticks: { color: "#000", font: { family: SANS, size: 33 }, padding: 19, autoSkip: false, maxRotation: 0, callback: (v: any) => String(v) },
          }),
          y: axisBase({
            type: "logarithmic",
            min: 0.2,
            max: 0.46,
            afterFit: fixWidth(146),
            afterBuildTicks: (s: any) => { s.ticks = tempTicks.map((v) => ({ value: v })); },
            ticks: { color: "#000", font: { family: SANS, size: 33 }, padding: 19, autoSkip: false, callback: (v: any) => String(v) },
          }),
        },
      },
      plugins: [mainDecor],
    } as any);
    charts.push(mainChart);

    // ---------------- inset ----------------
    const insetDecor = {
      id: "insetDecor",
      beforeDraw(chart: any) {
        const ctx = chart.ctx;
        ctx.save();
        ctx.fillStyle = "#fff";
        ctx.fillRect(1623, 340, W - 1623, 365);
        ctx.restore();
      },
      afterDatasetsDraw(chart: any) {
        const { ctx, chartArea: a, scales } = chart;
        const sx = scales.x, sy = scales.y;
        ctx.save();
        ctx.strokeStyle = "#000";
        ctx.lineWidth = 1.6;
        insetTimeTicks.forEach((t) => {
          const px = sx.getPixelForValue(t);
          seg(ctx, px, a.bottom, px, a.bottom - 15);
          seg(ctx, px, a.top, px, a.top + 15);
        });
        insetTempTicks.forEach((v) => {
          const py = sy.getPixelForValue(v);
          seg(ctx, a.left, py, a.left + 15, py);
          seg(ctx, a.right, py, a.right - 15, py);
        });
        ctx.lineWidth = 2;
        ctx.strokeRect(a.left, a.top, a.right - a.left, a.bottom - a.top);

        // tau annotations
        ctx.fillStyle = "#000";
        ctx.textAlign = "left";
        ctx.textBaseline = "middle";
        insetTextRest.forEach((rest, i) => {
          const x0 = sx.getPixelForValue(insetTextTime[i]);
          const y0 = sy.getPixelForValue(insetTextValue[i]);
          ctx.font = `italic 34px ${SERIF}`;
          ctx.fillText("\u03C4", x0, y0);
          const w = ctx.measureText("\u03C4").width;
          ctx.font = `34px ${SERIF}`;
          ctx.fillText(rest, x0 + w, y0);
        });
        ctx.strokeStyle = "#000";
        ctx.lineWidth = 2.6;
        insetArrowFrom.forEach((f, i) => {
          const x0 = sx.getPixelForValue(f[0]), y0 = sy.getPixelForValue(f[1]);
          const x1 = sx.getPixelForValue(insetArrowTo[i][0]), y1 = sy.getPixelForValue(insetArrowTo[i][1]);
          const ang = Math.atan2(y1 - y0, x1 - x0);
          seg(ctx, x0, y0, x1 - 10 * Math.cos(ang), y1 - 10 * Math.sin(ang));
          head(ctx, x0, y0, x1, y1, 15, 6);
        });

        ctx.font = `30px ${SANS}`;
        ctx.textAlign = "center";
        ctx.textBaseline = "alphabetic";
        ctx.fillText("time, s", 1890, 681);

        // red arrow from the marked pulse in the main panel to the inset
        const ms = mainChart.scales as any;
        const sxp = ms.x.getPixelForValue(markerTime);
        const syp = ms.y.getPixelForValue(markerTemp);
        const ex = sx.getPixelForValue(markerTarget[0]);
        const ey = sy.getPixelForValue(markerTarget[1]);
        const cx = sxp + 0.457 * (ex - sxp);
        const cy = syp - 0.47 * (cx - sxp);
        const a0 = Math.atan2(cy - syp, cx - sxp);
        const bx = sxp + 8 * Math.cos(a0), by = syp + 8 * Math.sin(a0);
        ctx.strokeStyle = RED;
        ctx.fillStyle = RED;
        ctx.lineWidth = 2;
        const ae = Math.atan2(ey - cy, ex - cx);
        ctx.beginPath();
        ctx.moveTo(bx, by);
        ctx.quadraticCurveTo(cx, cy, ex - 12 * Math.cos(ae), ey - 12 * Math.sin(ae));
        ctx.stroke();
        head(ctx, cx, cy, ex, ey, 18, 6);
        ctx.restore();
      },
    };

    charts.push(
      new Chart(insetRef.current!, {
        type: "line",
        data: {
          datasets: [
            { data: insetFitTime.map((t, i) => ({ x: t, y: insetFitValue[i] })), borderColor: FIT_GREEN, borderWidth: 2.6, pointRadius: 0 },
            { data: insetCyanTime.map((t, i) => ({ x: t, y: insetCyanValue[i] })), borderColor: CYAN, borderWidth: 2.4, pointRadius: 0, tension: 0.3 },
            { data: insetDots.map(([x, y]) => ({ x, y })), showLine: false, pointRadius: 5.4, pointBorderWidth: 0, pointBackgroundColor: PURPLE, borderColor: PURPLE },
          ],
        },
        options: {
          responsive: false,
          animation: false,
          devicePixelRatio: 1,
          events: [],
          layout: { padding: { top: 358, bottom: 0, left: 1600, right: 28 } },
          plugins: { legend: { display: false }, tooltip: { enabled: false } },
          scales: {
            x: axisBase({
              type: "linear",
              min: -200,
              max: 400,
              afterFit: fixHeight(604),
              afterBuildTicks: (s: any) => { s.ticks = insetTimeTicks.map((v) => ({ value: v })); },
              ticks: { color: "#000", font: { family: SANS, size: 29 }, padding: 13, autoSkip: false, maxRotation: 0, callback: (v: any) => (v % 200 === 0 ? String(v) : "") },
            }),
            y: axisBase({
              type: "linear",
              min: 0.225,
              max: 0.27,
              afterFit: fixWidth(91),
              afterBuildTicks: (s: any) => { s.ticks = insetTempTicks.map((v) => ({ value: v })); },
              ticks: {
                color: "#000",
                font: { family: SANS, size: 29 },
                padding: 11,
                autoSkip: false,
                callback: (v: any) => (Math.abs(v - 0.24) < 1e-6 || Math.abs(v - 0.26) < 1e-6 ? Number(v).toFixed(2) : ""),
              },
            }),
          },
        },
        plugins: [insetDecor],
      } as any)
    );

    return () => {
      charts.forEach((c) => c.destroy());
    };
  }, []);

  return (
    <div style={{ position: "relative", width: W, height: H, overflow: "hidden", background: "#fff" }}>
      <canvas ref={topRef} width={W} height={TOP_H} style={{ position: "absolute", left: 0, top: 0 }} />
      <canvas ref={mainRef} width={W} height={H} style={{ position: "absolute", left: 0, top: 0 }} />
      <canvas ref={insetRef} width={W} height={H} style={{ position: "absolute", left: 0, top: 0 }} />
    </div>
  );
}
